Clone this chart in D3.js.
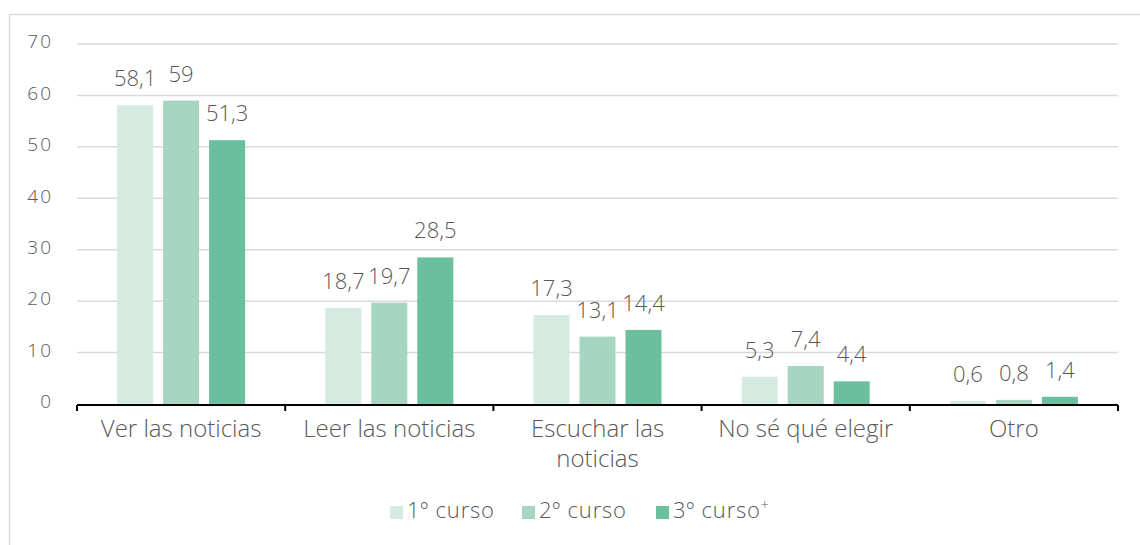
<!DOCTYPE html>
<html><head><meta charset="utf-8">
<script src="https://cdn.jsdelivr.net/npm/d3@7"></script>
<style>body{margin:0;background:#fff;} text{font-family:"Open Sans",Lato,sans-serif;fill:#595959;font-weight:300;}</style>
</head><body>
<svg id="c" width="1140" height="545"></svg>
<script>
const categories = [["Ver las noticias"],["Leer las noticias"],["Escuchar las","noticias"],["No sé qué elegir"],["Otro"]];
const seriesNames = ["1º curso","2º curso","3º curso"];
const s1 = [58.1, 18.7, 17.3, 5.3, 0.6];
const s2 = [59, 19.7, 13.1, 7.4, 0.8];
const s3 = [51.3, 28.5, 14.4, 4.4, 1.4];
const yTicks = [0,10,20,30,40,50,60,70];
const colors = ["#d5ebe2","#a6d5c2","#6abf9f"];
const series = [s1,s2,s3];

const svg = d3.select("#c");
svg.append("rect").attr("x",9.5).attr("y",14.5).attr("width",1140).attr("height",540)
  .attr("fill","none").attr("stroke","#d9d9d9").attr("stroke-width",1.5);

const L=77,R=1118,T=44,B=404;
const x = d3.scaleBand().domain(d3.range(categories.length)).range([L,R]);
const y = d3.scaleLinear().domain([0,70]).range([B,T]);
const barW=36, gap=10;
const inner = d3.scaleBand().domain(d3.range(3)).range([0, barW*3+gap*2]).paddingInner(gap/(barW+gap));
const off = (x.bandwidth() - (barW*3+gap*2))/2;

// grid
svg.append("g").selectAll("line").data(yTicks.filter(d=>d>0)).join("line")
  .attr("x1",L).attr("x2",R).attr("y1",d=>y(d)).attr("y2",d=>y(d))
  .attr("stroke","#d9d9d9").attr("stroke-width",1.5);
// y labels
const ya = svg.append("g").attr("transform",`translate(${L},0)`)
  .call(d3.axisLeft(y).tickValues(yTicks).tickSize(0).tickPadding(24).tickFormat(d3.format("d")));
ya.select(".domain").remove();
ya.selectAll("text").attr("font-size",19).attr("font-family","Open Sans").attr("fill","#595959")
  .attr("font-weight",300).attr("letter-spacing",2).attr("dy","0.2em");

// bars
series.forEach((s,si)=>{
  const g = svg.append("g");
  g.selectAll("rect").data(s).join("rect")
    .attr("x",(d,i)=>x(i)+off+inner(si)).attr("width",barW)
    .attr("y",d=>y(d)).attr("height",d=>B-y(d)).attr("fill",colors[si]);
  g.selectAll("text").data(s).join("text")
    .attr("x",(d,i)=>x(i)+off+inner(si)+barW/2).attr("y",d=>y(d)-19)
    .attr("text-anchor","middle").attr("font-size",22)
    .text(d=>String(d).replace(".",","));
});

// x axis
const xa = svg.append("g").attr("transform",`translate(0,${B+1})`);
xa.append("line").attr("x1",L).attr("x2",R).attr("stroke","#000").attr("stroke-width",2);
xa.selectAll("line.t").data(d3.range(categories.length+1)).join("line").attr("class","t")
  .attr("x1",i=>L+i*x.step()).attr("x2",i=>L+i*x.step()).attr("y1",0).attr("y2",6)
  .attr("stroke","#000").attr("stroke-width",2);
const cl = svg.append("g").selectAll("text").data(categories).join("text")
  .attr("x",(d,i)=>x(i)+x.bandwidth()/2).attr("y",437).attr("text-anchor","middle").attr("font-size",24);
cl.each(function(d,i){
  const t=d3.select(this);
  d.forEach((line,j)=>t.append("tspan").attr("x",x(i)+x.bandwidth()/2).attr("dy",j?30:0).text(line));
});

// legend
const legX=[390,522,656];
seriesNames.forEach((n,i)=>{
  svg.append("rect").attr("x",legX[i]).attr("y",506).attr("width",13).attr("height",13).attr("fill",colors[i]);
  const t=svg.append("text").attr("x",legX[i]+17).attr("y",518).attr("font-size",22).attr("letter-spacing",0.8).text(n);
  if(i===2) t.append("tspan").attr("font-size",14).attr("dy",-8).text("+");
});
</script>
</body></html>
